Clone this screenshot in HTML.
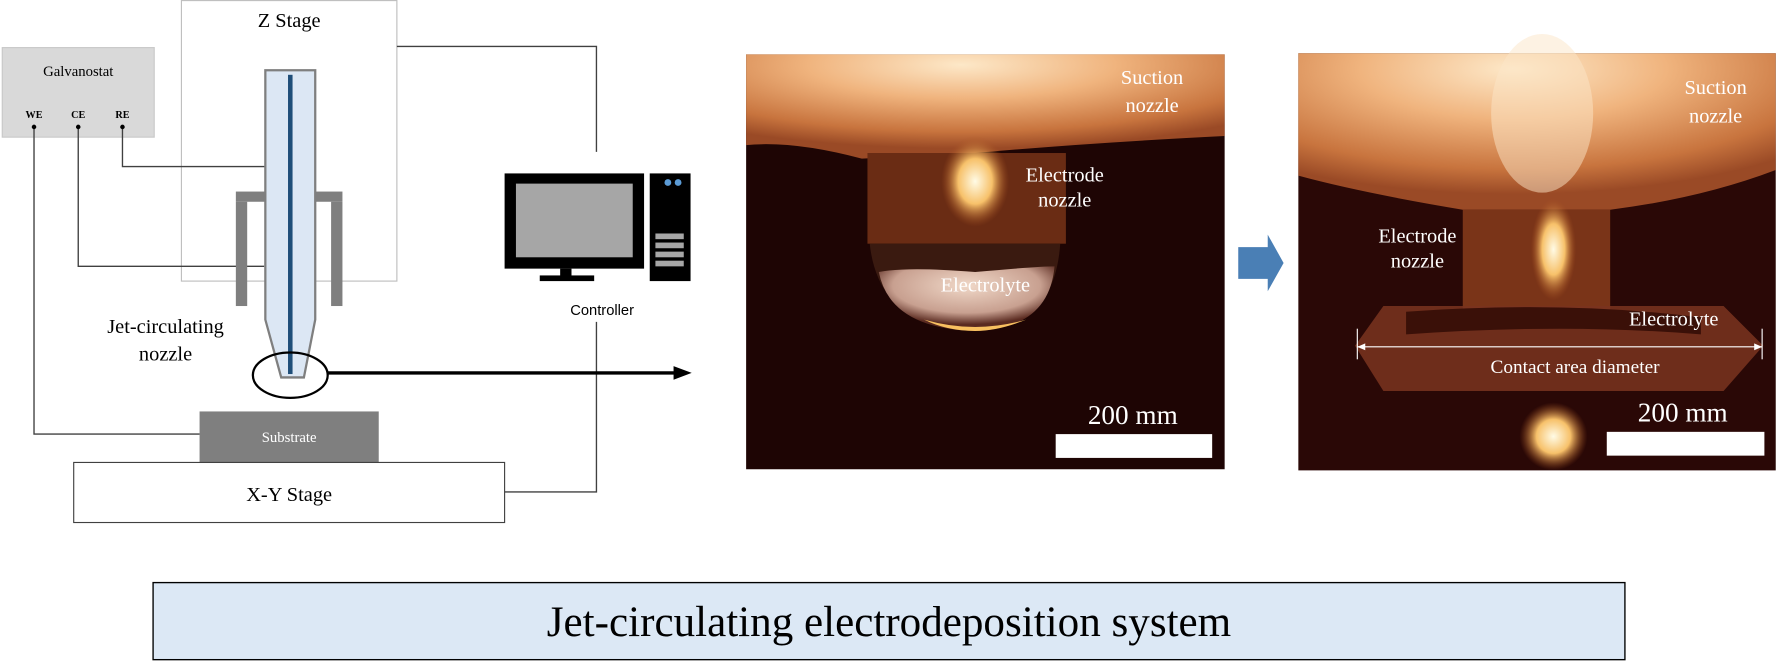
<!DOCTYPE html>
<html><head><meta charset="utf-8"><style>html,body{margin:0;padding:0;background:#fff}svg{display:block}</style></head>
<body>
<svg width="1778" height="671" viewBox="0 0 1568 592" preserveAspectRatio="none" xmlns="http://www.w3.org/2000/svg" font-family="Liberation Serif, serif">
<defs>
<radialGradient id="g1" cx="0.45" cy="0.1" r="0.8">
<stop offset="0" stop-color="#fde8c8"/><stop offset="0.4" stop-color="#f0b47e"/><stop offset="0.8" stop-color="#c8743e"/><stop offset="1" stop-color="#9a4a26"/></radialGradient>
<radialGradient id="g2" cx="0.5" cy="0.5" r="0.5"><stop offset="0" stop-color="#fffbe6"/><stop offset="0.5" stop-color="#f7c16a"/><stop offset="1" stop-color="#a8501e" stop-opacity="0"/></radialGradient>
<radialGradient id="g3" cx="0.5" cy="0.3" r="0.6"><stop offset="0" stop-color="#f0d8c8"/><stop offset="0.7" stop-color="#c8a090"/><stop offset="1" stop-color="#5a2a20"/></radialGradient>
</defs>
<rect x="160" y="0.5" width="190" height="247.5" fill="#fff" stroke="#bfbfbf"/>
<text x="255" y="24" font-size="18" text-anchor="middle">Z Stage</text>
<rect x="2" y="42" width="134" height="79" fill="#d9d9d9" stroke="#c8c8c8"/>
<text x="69" y="67" font-size="13" text-anchor="middle">Galvanostat</text>
<g font-size="9" font-weight="bold" text-anchor="middle"><text x="30" y="104">WE</text><text x="69" y="104">CE</text><text x="108" y="104">RE</text></g>
<g stroke="#404040" stroke-width="1.2" fill="none">
<polyline points="108,112 108,147 256,147"/>
<polyline points="69,112 69,235 233,235"/>
<polyline points="30,112 30,383 176,383"/>
<polyline points="350,41 526,41 526,134"/>
<polyline points="526,284 526,434 445,434"/>
</g>
<g fill="#000"><circle cx="30" cy="112" r="2"/><circle cx="69" cy="112" r="2"/><circle cx="108" cy="112" r="2"/></g>
<g fill="#7f7f7f"><rect x="208" y="169" width="94" height="9"/><rect x="208" y="178" width="10" height="92"/><rect x="292" y="178" width="10" height="92"/></g>
<path d="M234,62 L278,62 L278,282 L268,333 L248,333 L234,282 Z" fill="#dce7f4" stroke="#7f7f7f" stroke-width="2"/>
<rect x="254" y="66" width="4" height="264" fill="#1f4e79"/>
<ellipse cx="256" cy="331" rx="33" ry="20" fill="none" stroke="#000" stroke-width="2"/>
<line x1="289" y1="329" x2="596" y2="329" stroke="#000" stroke-width="3"/>
<polygon points="594,323 610,329 594,335" fill="#000"/>
<text x="146" y="294" font-size="18" text-anchor="middle">Jet-circulating</text>
<text x="146" y="318" font-size="18" text-anchor="middle">nozzle</text>
<rect x="176" y="363" width="158" height="45" fill="#7f7f7f"/>
<text x="255" y="390" font-size="13" fill="#fff" text-anchor="middle">Substrate</text>
<rect x="65" y="408" width="380" height="53" fill="#fff" stroke="#404040"/>
<text x="255" y="442" font-size="18" text-anchor="middle">X-Y Stage</text>
<rect x="445" y="153" width="123" height="84" fill="#000"/>
<rect x="455" y="162" width="103" height="65" fill="#a6a6a6"/>
<rect x="494" y="237" width="10" height="7" fill="#000"/>
<rect x="476" y="243" width="48" height="5" fill="#000"/>
<rect x="573" y="153" width="36" height="95" fill="#000"/>
<circle cx="589" cy="161" r="3" fill="#5b9bd5"/><circle cx="598" cy="161" r="3" fill="#5b9bd5"/>
<g fill="#a6a6a6"><rect x="578" y="206" width="25" height="5"/><rect x="578" y="214" width="25" height="5"/><rect x="578" y="222" width="25" height="5"/><rect x="578" y="230" width="25" height="5"/></g>
<text x="531" y="278" font-size="13" font-family="Liberation Sans, sans-serif" text-anchor="middle">Controller</text>
<!-- photo 1 -->
<rect x="658" y="48" width="422" height="366" fill="#1e0504"/>
<path d="M658,128 Q700,124 760,140 L860,135 Q960,126 1080,120 L1080,48 L658,48Z" fill="url(#g1)"/>
<rect x="765" y="135" width="175" height="80" fill="#6a2c14"/>
<ellipse cx="860" cy="160" rx="30" ry="40" fill="url(#g2)"/>
<path d="M767,215 L935,215 Q930,290 860,292 Q775,290 767,215Z" fill="#3a1a10"/>
<path d="M775,240 Q800,235 860,240 Q915,235 930,235 Q925,290 860,292 Q785,290 775,240Z" fill="url(#g3)"/>
<path d="M815,282 Q860,295 905,282 Q880,292 860,292 Q835,292 815,282Z" fill="#f8c060"/>
<rect x="931" y="383" width="138" height="21" fill="#fff"/>
<g fill="#fff" font-size="18" text-anchor="middle">
<text x="1016" y="74">Suction</text><text x="1016" y="99">nozzle</text>
<text x="939" y="160">Electrode</text><text x="939" y="182">nozzle</text>
<text x="869" y="257">Electrolyte</text>
<text x="999" y="374" font-size="24">200 mm</text>
</g>
<polygon points="1092,218 1118,218 1118,207 1132,232 1118,257 1118,246 1092,246" fill="#4a7fb5"/>
<!-- photo 2 -->
<rect x="1145" y="47" width="421" height="368" fill="#2a0806"/>
<path d="M1145,47 L1566,47 L1566,150 Q1500,175 1420,185 L1290,185 Q1200,170 1145,155Z" fill="url(#g1)"/>
<ellipse cx="1360" cy="100" rx="45" ry="70" fill="#fbe6c8" opacity="0.5"/>
<rect x="1290" y="185" width="130" height="100" fill="#7a3418"/>
<ellipse cx="1370" cy="220" rx="20" ry="45" fill="url(#g2)"/>
<path d="M1220,270 L1520,270 L1555,305 L1520,345 L1220,345 L1195,305Z" fill="#7a3420" opacity="0.85"/>
<path d="M1240,275 Q1380,265 1500,280 L1500,295 Q1380,285 1240,295Z" fill="#3a1008"/>
<ellipse cx="1370" cy="385" rx="30" ry="30" fill="url(#g2)"/>
<rect x="1417" y="381" width="139" height="21" fill="#fff"/>
<g stroke="#fff" stroke-width="1"><line x1="1197" y1="306" x2="1554" y2="306"/><line x1="1197" y1="290" x2="1197" y2="317"/><line x1="1554" y1="290" x2="1554" y2="317"/></g>
<polygon points="1197,306 1204,303 1204,309" fill="#fff"/><polygon points="1554,306 1547,303 1547,309" fill="#fff"/>
<g fill="#fff" font-size="18" text-anchor="middle">
<text x="1513" y="83">Suction</text><text x="1513" y="108">nozzle</text>
<text x="1250" y="214">Electrode</text><text x="1250" y="236">nozzle</text>
<text x="1476" y="287">Electrolyte</text>
<text x="1389" y="329" font-size="17">Contact area diameter</text>
<text x="1484" y="372" font-size="24">200 mm</text>
</g>
<rect x="135" y="514" width="1298" height="68" fill="#dce8f5" stroke="#000" stroke-width="1.2"/>
<text x="784" y="561" font-size="38" text-anchor="middle">Jet-circulating electrodeposition system</text>
</svg>
</body></html>
